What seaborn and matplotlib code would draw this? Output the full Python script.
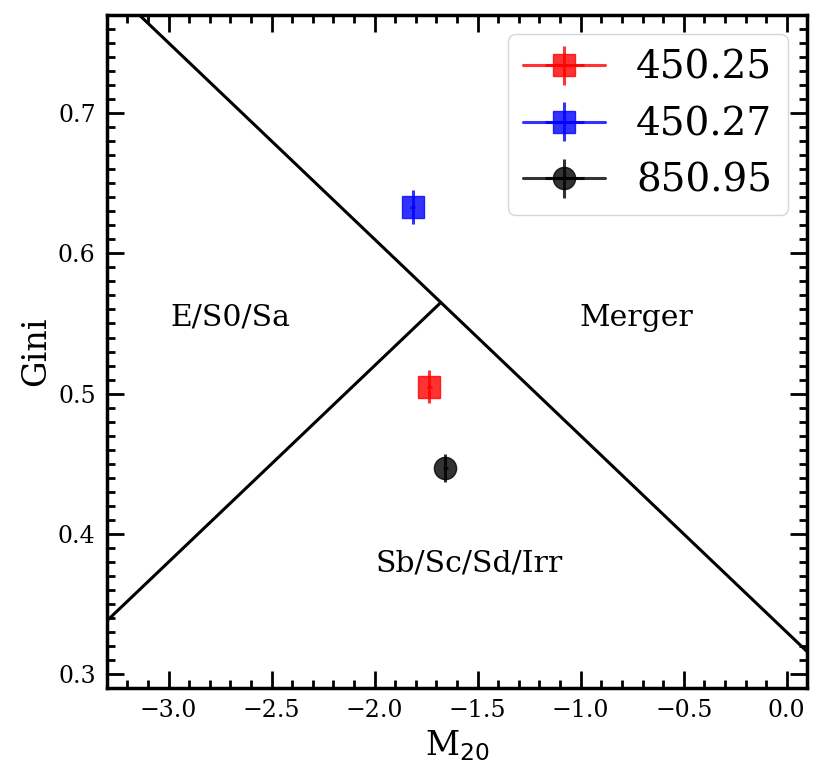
import numpy as np
import pandas as pd
import seaborn as sns
import matplotlib
matplotlib.use("Agg")
import matplotlib.pyplot as plt

# measured points (M20, Gini) with errors
names = ["450.25", "450.27", "850.95"]
m20 = [-1.736, -1.816, -1.658]
gini = [0.505, 0.633, 0.447]
m20_err = [0.012, 0.012, 0.012]
gini_err = [0.012, 0.012, 0.010]
colors = ["red", "blue", "black"]
markers = ["s-", "s-", "o-"]

# Lotz et al. 2008 classification boundaries
merger_slope, merger_icpt = -0.14, 0.33
early_slope, early_icpt = 0.14, 0.80
xlim = (-3.3, 0.1)
ylim = (0.29, 0.77)

sns.set_style("ticks")
plt.rcParams["font.family"] = ["DejaVu Serif"]
plt.rcParams["text.color"] = "black"
plt.rcParams["axes.labelcolor"] = "black"
plt.rcParams["xtick.color"] = "black"
plt.rcParams["ytick.color"] = "black"
plt.rcParams["axes.edgecolor"] = "black"

fig, ax = plt.subplots(figsize=(8.23, 7.79), dpi=100)
fig.subplots_adjust(left=0.1297, right=0.981, bottom=0.1164, top=0.981)

x_cross = (merger_icpt - early_icpt) / (early_slope - merger_slope)
xm = np.linspace(xlim[0], xlim[1], 50)
xe = np.linspace(xlim[0], x_cross, 50)
lines = pd.DataFrame({"x": xm, "y": merger_slope * xm + merger_icpt})
lines2 = pd.DataFrame({"x": xe, "y": early_slope * xe + early_icpt})
sns.lineplot(data=lines, x="x", y="y", color="black", lw=2.2, ax=ax)
sns.lineplot(data=lines2, x="x", y="y", color="black", lw=2.2, ax=ax)

for i in range(len(names)):
    ax.errorbar(m20[i], gini[i], xerr=m20_err[i], yerr=gini_err[i],
                fmt=markers[i], color=colors[i], ms=16, alpha=0.8,
                lw=2.2, elinewidth=2.2, label=names[i])

ax.text(-2.70, 0.554, "E/S0/Sa", fontsize=21.5, ha="center", va="center")
ax.text(-0.73, 0.554, "Merger", fontsize=21.5, ha="center", va="center")
ax.text(-1.54, 0.379, "Sb/Sc/Sd/Irr", fontsize=21.5, ha="center", va="center")

ax.set_xlim(xlim)
ax.set_ylim(ylim)
ax.set_xlabel("M$_{20}$", fontsize=24)
ax.set_ylabel("Gini", fontsize=24)
ax.set_xticks([-3.0, -2.5, -2.0, -1.5, -1.0, -0.5, 0.0])
ax.set_yticks([0.3, 0.4, 0.5, 0.6, 0.7])
ax.xaxis.set_minor_locator(matplotlib.ticker.MultipleLocator(0.1))
ax.yaxis.set_minor_locator(matplotlib.ticker.MultipleLocator(0.01))
ax.tick_params(which="both", direction="in", top=True, right=True, width=2)
ax.tick_params(which="major", length=12, labelsize=17, pad=8)
ax.tick_params(which="minor", length=6)
for s in ax.spines.values():
    s.set_linewidth(2.5)

ax.legend(loc="upper right", fontsize=28, handlelength=2.1, framealpha=0.8)

plt.savefig("out.png", dpi=100)
